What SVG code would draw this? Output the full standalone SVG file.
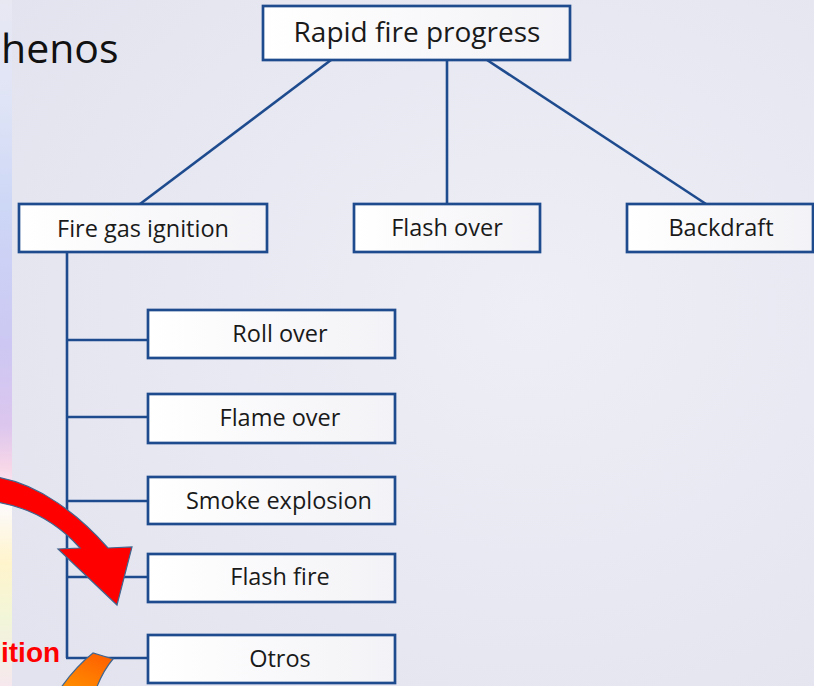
<svg xmlns="http://www.w3.org/2000/svg" width="814" height="686" viewBox="0 0 814 686">
  <defs>
    <radialGradient id="bg" cx="0.65" cy="0.45" r="0.8">
      <stop offset="0" stop-color="#eeeef6"/>
      <stop offset="1" stop-color="#e3e3ef"/>
    </radialGradient>
    <linearGradient id="strip" x1="0" y1="0" x2="0" y2="1">
      <stop offset="0" stop-color="#e8e8f3"/>
      <stop offset="0.15" stop-color="#dfe4f6"/>
      <stop offset="0.3" stop-color="#cdd7f6"/>
      <stop offset="0.5" stop-color="#ccc8f3"/>
      <stop offset="0.62" stop-color="#dcc6ee"/>
      <stop offset="0.68" stop-color="#f6d6e8"/>
      <stop offset="0.74" stop-color="#fdfafa"/>
      <stop offset="0.82" stop-color="#fff4cc"/>
      <stop offset="0.9" stop-color="#f2f6d8"/>
      <stop offset="1" stop-color="#f6e8ee"/>
    </linearGradient>
    <linearGradient id="boxfill" x1="0" y1="0" x2="1" y2="0">
      <stop offset="0" stop-color="#ffffff"/>
      <stop offset="1" stop-color="#f3f3f7"/>
    </linearGradient>
    <linearGradient id="orange" x1="0" y1="1" x2="0.6" y2="0">
      <stop offset="0" stop-color="#ff9400"/>
      <stop offset="1" stop-color="#ff6400"/>
    </linearGradient>
    <style>
      .box { fill: url(#boxfill); stroke: #1e4b8e; stroke-width: 2.7; }
      .wire { fill: none; stroke: #1e4b8e; stroke-width: 2.6; }
      .lbl { font-family: "Open Sans", "Noto Sans", sans-serif; font-size: 23.5px; fill: #1a1a1a; text-anchor: middle; }
      .root { font-size: 28px; }
      .callout { stroke: #41668f; stroke-width: 1.2; stroke-linejoin: miter; }
    </style>
  </defs>

  <!-- slide background -->
  <rect x="0" y="0" width="814" height="686" fill="url(#bg)"/>
  <rect x="0" y="0" width="12" height="686" fill="url(#strip)"/>

  <!-- slide title fragment -->
  <text x="1" y="63" font-family="Open Sans, Noto Sans, sans-serif" font-size="41" fill="#111111">henos</text>

  <!-- connectors -->
  <g id="connectors">
    <line class="wire" x1="331" y1="60" x2="140" y2="204"/>
    <line class="wire" x1="447" y1="60" x2="447" y2="204"/>
    <line class="wire" x1="487" y1="60" x2="706" y2="204"/>
    <line class="wire" x1="67" y1="252" x2="67" y2="658"/>
    <line class="wire" x1="67" y1="340" x2="148" y2="340"/>
    <line class="wire" x1="67" y1="417" x2="148" y2="417"/>
    <line class="wire" x1="67" y1="501" x2="148" y2="501"/>
    <line class="wire" x1="67" y1="577" x2="148" y2="577"/>
    <line class="wire" x1="66" y1="658" x2="148" y2="658"/>
  </g>

  <!-- nodes -->
  <g id="rapid-fire-progress">
    <rect class="box" x="263" y="6" width="307" height="54"/>
    <text class="lbl root" x="417" y="42">Rapid fire progress</text>
  </g>
  <g id="fire-gas-ignition">
    <rect class="box" x="19" y="204" width="248" height="48"/>
    <text class="lbl" x="143" y="237">Fire gas ignition</text>
  </g>
  <g id="flash-over">
    <rect class="box" x="354" y="204" width="186" height="48"/>
    <text class="lbl" x="447" y="236">Flash over</text>
  </g>
  <g id="backdraft">
    <rect class="box" x="627" y="204" width="186" height="48"/>
    <text class="lbl" x="721" y="236">Backdraft</text>
  </g>
  <g id="roll-over">
    <rect class="box" x="148" y="310" width="247" height="48"/>
    <text class="lbl" x="280" y="342">Roll over</text>
  </g>
  <g id="flame-over">
    <rect class="box" x="148" y="394" width="247" height="49"/>
    <text class="lbl" x="280" y="426">Flame over</text>
  </g>
  <g id="smoke-explosion">
    <rect class="box" x="148" y="477" width="247" height="47"/>
    <text class="lbl" x="279" y="509">Smoke explosion</text>
  </g>
  <g id="flash-fire">
    <rect class="box" x="148" y="554" width="247" height="48"/>
    <text class="lbl" x="280" y="585">Flash fire</text>
  </g>
  <g id="otros">
    <rect class="box" x="148" y="635" width="247" height="48"/>
    <text class="lbl" x="280" y="667">Otros</text>
  </g>

  <!-- curved red arrow pointing at Flash fire -->
  <path class="callout" fill="#ff0000" d="M -4 477 C 40 484 80 516 108 548 L 132 547 L 117 605 L 58 549 L 80 548 C 62 528 35 508 -4 502 Z"/>

  <!-- orange arrow end -->
  <path class="callout" fill="url(#orange)" d="M 58 692 Q 74 668 93 653 L 113 659 Q 102 672 95 692 Z"/>

  <!-- red label fragment -->
  <text x="1" y="662" font-family="Liberation Sans, Arial, sans-serif" font-size="28" font-weight="bold" fill="#ff0000">ition</text>
</svg>
